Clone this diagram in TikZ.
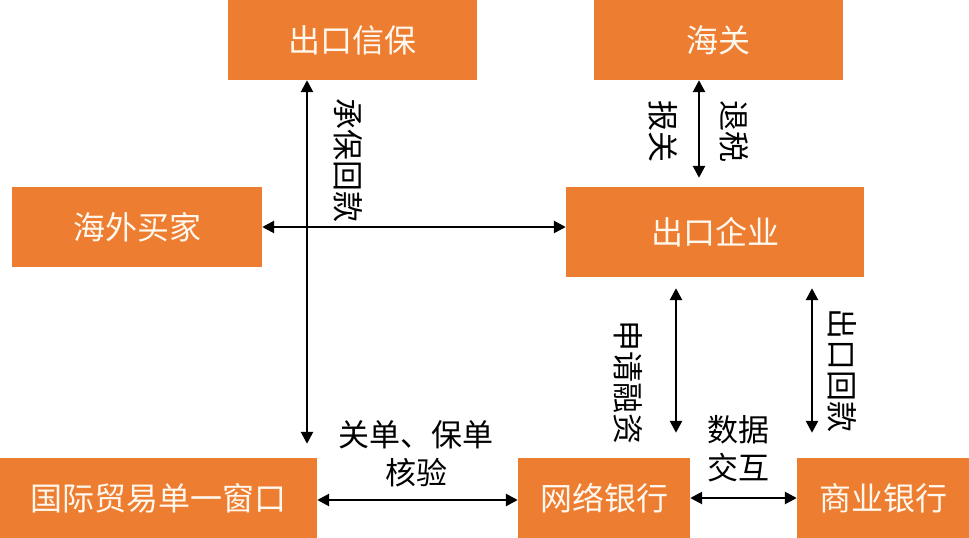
\documentclass[tikz,border=0pt]{standalone}
\usepackage{fontspec}
\setmainfont{Noto Sans CJK SC}
\usetikzlibrary{arrows.meta,calc}
\definecolor{boxorange}{HTML}{ED7D31}
\definecolor{boxtext}{HTML}{FFF8EE}
\begin{document}
\begin{tikzpicture}[x=1pt,y=-1pt,
  box/.style={fill=boxorange,draw=none,inner sep=0pt,text=boxtext,
    font=\fontsize{32}{38}\selectfont},
  lbl/.style={inner sep=0pt,text=black,font=\fontsize{31}{38}\selectfont,align=center},
  vlbl/.style={lbl,rotate=-90},
  arr/.style={line width=2.6pt,draw=black,
    {Triangle[length=12pt,width=12pt]}-{Triangle[length=12pt,width=12pt]}}]
\useasboundingbox (0,0) rectangle (969,538);
% boxes
\node[box,minimum width=249pt,minimum height=80pt] (xinbao) at (352.5,40) {出口信保};
\node[box,minimum width=249pt,minimum height=80pt] (haiguan) at (718.5,40) {海关};
\node[box,minimum width=250pt,minimum height=80pt] (maijia) at (137,227) {海外买家};
\node[box,minimum width=298pt,minimum height=90pt] (qiye) at (715,232) {出口企业};
\node[box,minimum width=317pt,minimum height=80pt] (window) at (158.5,498) {国际贸易单一窗口};
\node[box,minimum width=172pt,minimum height=80pt] (wangyin) at (604,498) {网络银行};
\node[box,minimum width=172pt,minimum height=80pt] (shangyin) at (883,498) {商业银行};
% x positions of vertical connectors
\coordinate (vx) at (307,0);
\coordinate (hx) at (699,0);
\coordinate (ax) at (676,0);
\coordinate (bx) at (812,0);
% connectors
\draw[arr,shorten >=14pt] (xinbao.south -| vx) -- (window.north -| vx);
\draw[arr] (maijia.east) -- (maijia.east -| qiye.west);
\draw[arr,shorten >=9pt] (haiguan.south -| hx) -- (qiye.north -| hx);
\draw[arr,shorten <=11pt,shorten >=25pt] (qiye.south -| ax) -- (wangyin.north -| ax);
\draw[arr,shorten <=11pt,shorten >=25pt] (qiye.south -| bx) -- (shangyin.north -| bx);
\draw[arr] ($(window.east)+(0,2)$) -- ($(wangyin.west)+(0,2)$);
\draw[arr] (wangyin.east) -- (shangyin.west);
% labels
\node[vlbl] (l1) at (348,160) {承保回款};
\node[vlbl] (l2) at (663,131) {报关};
\node[vlbl] (l3) at (734,131) {退税};
\node[vlbl] (l4) at (628,382) {申请融资};
\node[vlbl] (l5) at (842,370) {出口回款};
\node[lbl] (l6) at (738,449) {数据\\交互};
\node[lbl] (l7) at (416,454) {关单、保单\\核验};
\end{tikzpicture}
\end{document}
